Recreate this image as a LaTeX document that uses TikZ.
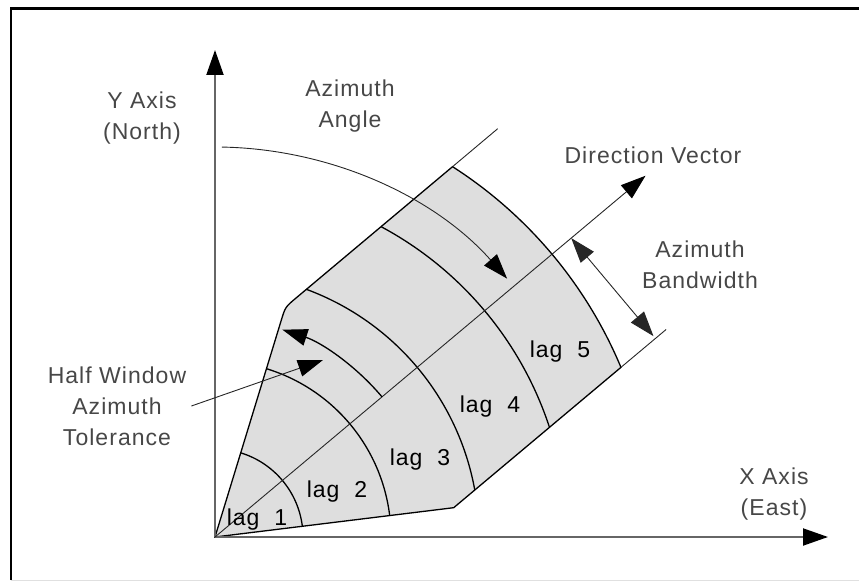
\documentclass[tikz,border=0pt]{standalone}
\usepackage{fontspec}
\setmainfont{Liberation Sans}[LetterSpace=4.5]
\usetikzlibrary{positioning, arrows.meta, calc}

\begin{document}
\begin{tikzpicture}[x=1pt, y=1pt,
  lbl/.style={align=center, font=\fontsize{23}{31}\selectfont, text=black!72, inner sep=0pt},
  lagtxt/.style={font=\fontsize{23}{27}\selectfont, inner sep=0pt},
  tip/.style={-{Triangle[length=25pt, width=17pt, color=black]}},
  axis/.style={tip, line width=2pt, black!60},
  edge/.style={line width=1.3pt},
  guide/.style={line width=0.9pt, black!85}
]
  \useasboundingbox (-215,-45) rectangle (644,537);
  % frame
  \draw[black!12, line width=1pt] (-204,-43) -- (650,-43);
  \draw[line width=2.5pt] (-204,-43) -- (-204,528.5) -- (650,528.5);

  \coordinate (O) at (0,0);
  \coordinate (yend) at (0,487);
  \coordinate (xend) at (613,0);
  \coordinate (cL) at (73:240.5);
  \coordinate (cR) at (7:240.5);
  \coordinate (oL) at (57.32:440);
  \coordinate (oR) at (22.68:440);
  \coordinate (eL) at (282.7,408.3);
  \coordinate (eR) at (451.1,207.5);
  \coordinate (dv) at (40:562);
  \coordinate (hw) at (108,177);
  \coordinate (bw1) at (40:465);
  \coordinate (bw2) at ($(bw1)+(-50:128)$);

  % search window and lags
  \filldraw[fill=black!13, edge] (O) -- (cR) -- (oR)
    arc[start angle=22.68, end angle=57.32, radius=440]
    -- ($(cL)!14pt!(oL)$) .. controls (cL) .. ($(cL)!14pt!(O)$) -- cycle;
  \foreach \r/\h in {88/33, 176/33, 264/29.74, 352/21.85}
    \draw[edge] ({40-\h}:\r) arc[start angle={40-\h}, end angle={40+\h}, radius=\r];
  \draw[guide] (oL) -- (eL);
  \draw[guide] (oR) -- (eR);

  % axes
  \draw[axis] (O) -- (yend);
  \draw[axis] (O) -- (xend);

  % direction, angle and tolerance
  \draw[tip, guide] (O) -- (dv);
  \draw[tip, guide] (89:390) arc[start angle=89, end angle=41.5, radius=390];
  \draw[tip, edge] (40:218) arc[start angle=40, end angle=72, radius=218];
  \draw[{Triangle[length=25pt, width=17pt]}-{Triangle[length=25pt, width=17pt]}, guide] (bw1) -- (bw2);

  % labels
  \node[lbl] (ylbl) at (-73,419) {Y Axis\\(North)};
  \node[lbl] (xlbl) at (559,43) {X Axis\\(East)};
  \node[lbl] (angle) at (135,431) {Azimuth\\Angle};
  \node[lbl] (dirvec) at (438,382) {Direction Vector};
  \node[lbl] (band) at (485,272) {Azimuth\\Bandwidth};
  \node[lbl] (tol) at (-98,131) {Half Window\\Azimuth\\Tolerance};
  \draw[tip, guide] ([xshift=5pt]tol.east) -- (hw);

  \foreach \k/\x/\y in {1/42/17, 2/122/45, 3/205/77, 4/275/130, 5/345/185}
    \node[lagtxt] (lag\k) at (\x,\y) {lag\ \ \k};
\end{tikzpicture}
\end{document}
